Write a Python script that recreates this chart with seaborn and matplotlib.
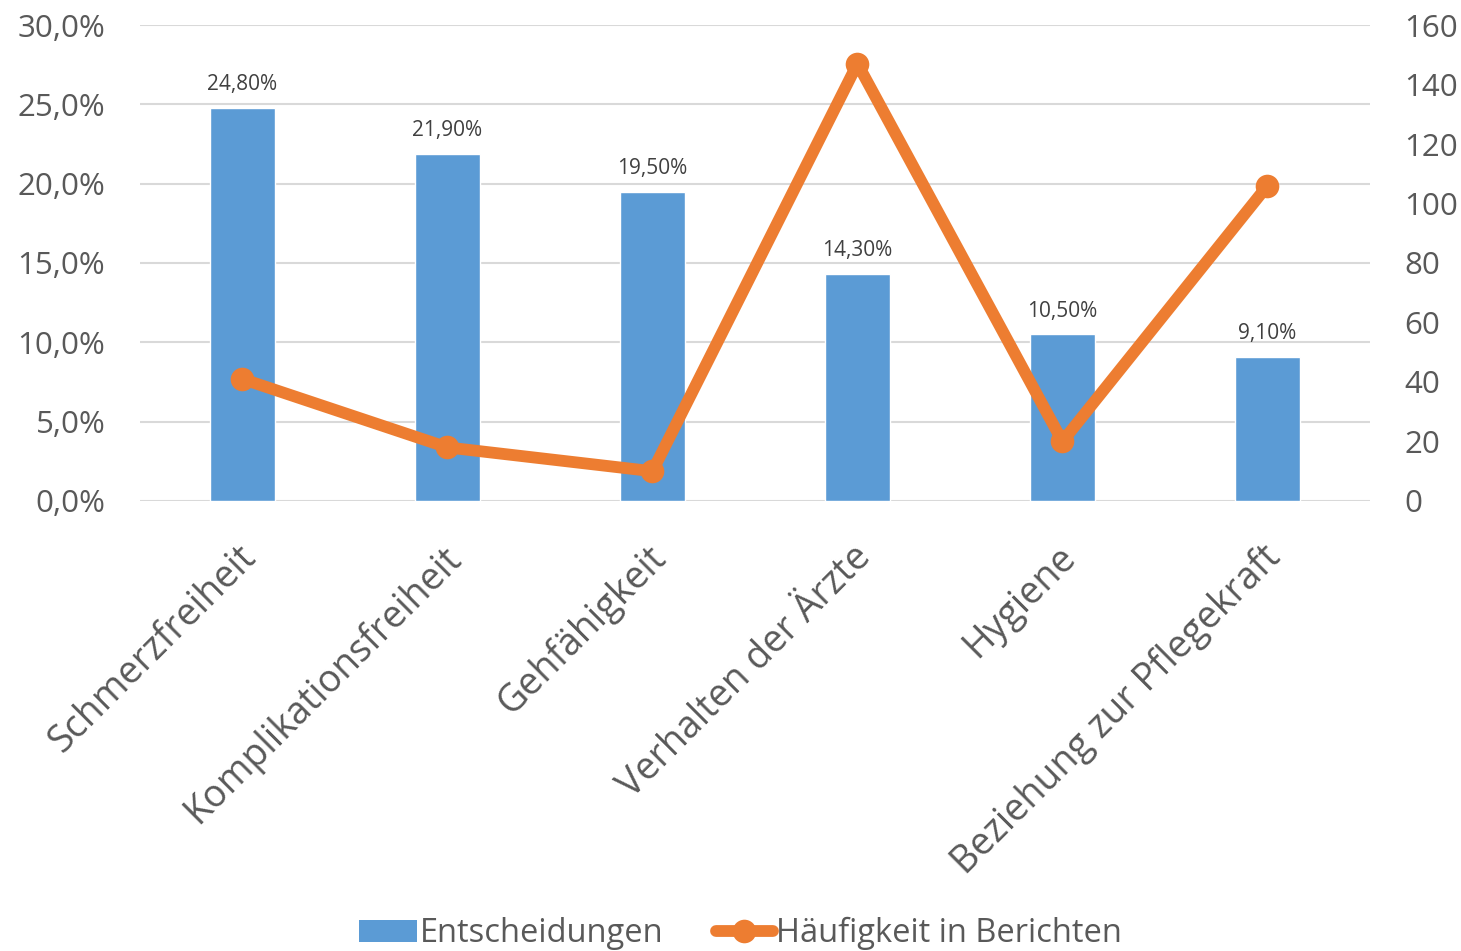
import matplotlib
matplotlib.use("Agg")
import matplotlib.pyplot as plt
import seaborn as sns
import numpy as np
import pandas as pd
from matplotlib.lines import Line2D
from matplotlib.patches import Patch
from matplotlib.ticker import FuncFormatter, MultipleLocator
import matplotlib.transforms as mtransforms

categories = ["Schmerzfreiheit", "Komplikationsfreiheit", "Gehfähigkeit",
              "Verhalten der Ärzte", "Hygiene", "Beziehung zur Pflegekraft"]
entscheidungen = [24.8, 21.9, 19.5, 14.3, 10.5, 9.1]
haeufigkeit = [41, 18, 10, 147, 20, 106]

BLUE = "#5B9BD5"
ORANGE = "#ED7D31"
TEXT = "#595959"
GRID = "#D9D9D9"

sns.set_theme(style="white")
plt.rcParams["font.family"] = ["Open Sans", "DejaVu Sans"]

fig = plt.figure(figsize=(14.61, 9.51), dpi=100)
ax = fig.add_axes([0.0958, 0.4732, 0.8419, 0.5005])

df = pd.DataFrame({"cat": categories, "val": entscheidungen})
sns.barplot(data=df, x="cat", y="val", color=BLUE, width=0.315, ax=ax,
            saturation=1, zorder=2)
ax.set_xlim(-0.5, 5.5)
ax.set_ylim(0, 30)
ax.yaxis.set_major_locator(MultipleLocator(5))
ax.yaxis.set_major_formatter(FuncFormatter(lambda v, p: f"{v:.1f}".replace(".", ",") + "%"))
ax.grid(axis="y", color=GRID, linewidth=1.5, zorder=0)
ax.set_axisbelow(True)
for s in ax.spines.values():
    s.set_visible(False)
ax.set_xlabel("")
ax.set_ylabel("")
ax.tick_params(axis="y", labelsize=22.5, colors=TEXT, length=0, pad=25)
ax.tick_params(axis="x", length=0, pad=27)
ax.set_xticks(range(len(categories)))
ax.set_xticklabels(categories, rotation=45, ha="right", rotation_mode="anchor",
                   fontsize=27, color=TEXT)
offset = mtransforms.ScaledTranslation(-6 / 100, 0, fig.dpi_scale_trans)
for lbl in ax.get_xticklabels():
    lbl.set_transform(lbl.get_transform() + offset)

for i, v in enumerate(entscheidungen):
    ax.text(i, v + 0.8, f"{v:.2f}".replace(".", ",") + "%", ha="center", va="bottom",
            fontsize=15, color="#404040")

ax2 = ax.twinx()
sns.lineplot(x=np.arange(len(categories)), y=haeufigkeit, ax=ax2, color=ORANGE,
             linewidth=8.5, marker="o", markersize=17, markeredgewidth=0,
             zorder=3)
ax2.set_ylim(0, 160)
ax2.yaxis.set_major_locator(MultipleLocator(20))
for s in ax2.spines.values():
    s.set_visible(False)
ax2.tick_params(axis="y", labelsize=22.5, colors=TEXT, length=0, pad=25)
ax2.set_xlim(-0.5, 5.5)

handles = [Patch(facecolor=BLUE, edgecolor="none"),
           Line2D([0], [0], color=ORANGE, linewidth=8.5, marker="o", markersize=17,
                  markeredgewidth=0)]
leg = fig.legend(handles, ["Entscheidungen", "Häufigkeit in Berichten"],
                 loc="center", bbox_to_anchor=(0.507, 0.018), ncol=2, frameon=False,
                 fontsize=23.5, handlelength=1.75, handletextpad=0.1, columnspacing=1.6)
for t in leg.get_texts():
    t.set_color(TEXT)

fig.savefig("out.png", dpi=100)
